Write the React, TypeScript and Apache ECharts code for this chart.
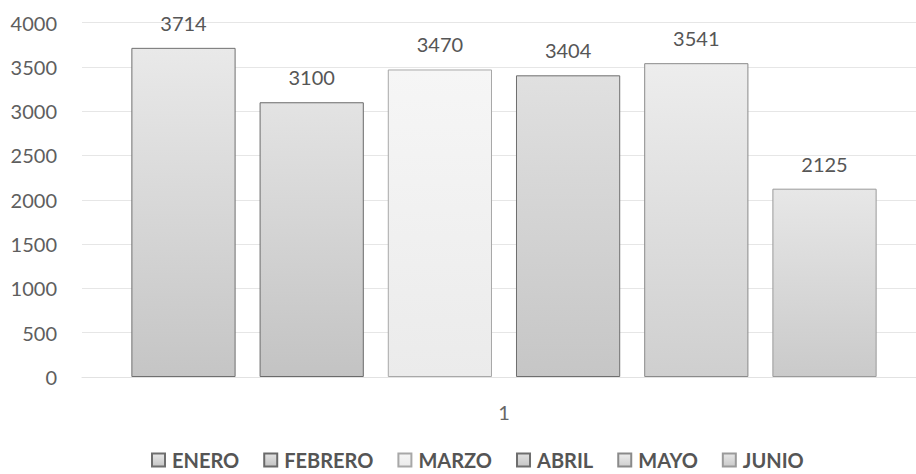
import React, { useEffect, useRef } from "react";
import * as echarts from "echarts";

const categories = ["1"];
const seriesNames = ["ENERO", "FEBRERO", "MARZO", "ABRIL", "MAYO", "JUNIO"];
const seriesValues = [3714, 3100, 3470, 3404, 3541, 2125];
const topColors = ["#e9e9e9", "#e3e3e3", "#f6f6f6", "#e0e0e0", "#ededed", "#e7e7e7"];
const bottomColors = ["#c5c5c5", "#c3c3c3", "#ebebeb", "#c6c6c6", "#cfcfcf", "#cacaca"];
const borderColors = ["#6f6f6f", "#6a6a6a", "#a8a8a8", "#6e6e6e", "#8a8a8a", "#9a9a9a"];
const yTicks = { min: 0, max: 4000, interval: 500 };

export default function App() {
  const ref = useRef<HTMLDivElement>(null);
  useEffect(() => {
    document.body.style.margin = "0";
    const chart = echarts.init(ref.current!, null, { renderer: "svg" });
    const series = seriesNames.map((name, i) => ({
      name,
      type: "bar",
      data: [seriesValues[i]],
      barGap: "23%",
      barCategoryGap: "11.7%",
      itemStyle: {
        color: new echarts.graphic.LinearGradient(0, 0, 0, 1, [
          { offset: 0, color: topColors[i] },
          { offset: 1, color: bottomColors[i] },
        ]),
        borderColor: borderColors[i],
        borderWidth: 1,
      },
      label: {
        show: true,
        position: "top",
        distance: 15,
        fontFamily: "Lato",
        fontSize: 20,
        color: "#565656",
      },
    }));
    chart.setOption({
      animation: false,
      backgroundColor: "#ffffff",
      grid: {
        left: 82,
        top: 22.5,
        width: 844,
        height: 354.5,
        containLabel: false,
        outerBoundsMode: "none",
      },
      legend: {
        data: seriesNames,
        left: 146,
        top: 445,
        icon: "rect",
        itemWidth: 13,
        itemHeight: 13,
        itemGap: 24,
        textStyle: {
          fontFamily: "Lato",
          fontWeight: "bold",
          fontSize: 20,
          color: "#555555",
          padding: [0, 0, 0, 2],
        },
      },
      xAxis: {
        type: "category",
        data: categories,
        axisLine: { show: true, lineStyle: { color: "#e2e2e2", width: 1 } },
        axisTick: { show: false },
        axisLabel: {
          margin: 25,
          fontFamily: "Lato",
          fontSize: 20,
          color: "#666666",
        },
      },
      yAxis: {
        type: "value",
        min: yTicks.min,
        max: yTicks.max,
        interval: yTicks.interval,
        axisLine: { show: false },
        axisTick: { show: false },
        splitLine: { lineStyle: { color: "#e6e6e6", width: 1 } },
        axisLabel: {
          margin: 25,
          fontFamily: "Lato",
          fontSize: 20,
          color: "#5e5e5e",
          formatter: (v: number) => String(v),
        },
      },
      series,
    });
    return () => chart.dispose();
  }, []);
  return <div ref={ref} style={{ width: 916, height: 474, overflow: "hidden" }} />;
}
